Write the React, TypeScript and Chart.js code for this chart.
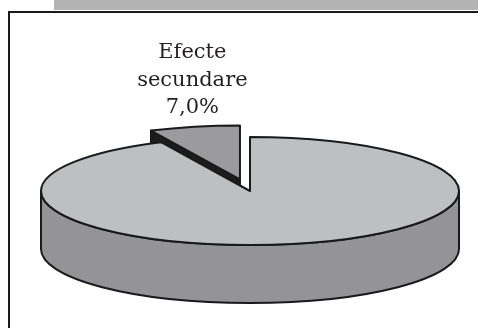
import React, { useEffect, useRef } from 'react';
import { Chart, registerables } from 'chart.js';

Chart.register(...registerables);

// ---- data ----
const categories: string[] = ['', 'Efecte secundare'];
const values: number[] = [93, 7];
const explode: number[] = [0, 46];

// ---- styles ----
const topColors = ['#bebfc1', '#9b9b9d'];
const wallColors = ['#949497', '#1c1c1c'];
const EDGE = '#1a1a1a';
const TILT = 54 / 209;
const DEPTH = 58;
const LABEL_FONT = '21px "DejaVu Serif", serif';
const LINE_H = 27.5;

const pie3d = {
  id: 'pie3d',
  beforeDatasetsDraw(chart: any) {
    const ctx: CanvasRenderingContext2D = chart.ctx;
    const meta = chart.getDatasetMeta(0);
    const ds = chart.data.datasets[0];
    const data: number[] = ds.data as number[];
    const total = data.reduce((a, b) => a + b, 0);
    const items = meta.data.map((el: any, i: number) => {
      const p = el.getProps(['x', 'y', 'startAngle', 'endAngle', 'outerRadius'], true);
      const off = el.options.offset || 0;
      const mid = (p.startAngle + p.endAngle) / 2;
      return {
        i,
        bx: p.x,
        by: p.y,
        cx: p.x + Math.cos(mid) * off,
        cy: p.y + Math.sin(mid) * off * TILT,
        r: p.outerRadius,
        s: p.startAngle,
        e: p.endAngle,
        mid,
        off,
      };
    });
    const order = [...items].sort((a, b) => a.cy - b.cy || Math.sin(a.mid) - Math.sin(b.mid));

    ctx.save();
    ctx.lineWidth = 2;
    ctx.strokeStyle = EDGE;
    ctx.lineJoin = 'round';
    for (const it of order) {
      const { cx, cy, r, s, e } = it;
      const rx = r;
      const ry = r * TILT;
      const wc = wallColors[it.i % wallColors.length];
      const tc = topColors[it.i % topColors.length];
      const wall = (a: number) => {
        const px = cx + rx * Math.cos(a);
        const py = cy + ry * Math.sin(a);
        ctx.beginPath();
        ctx.moveTo(cx, cy);
        ctx.lineTo(px, py);
        ctx.lineTo(px, py + DEPTH);
        ctx.lineTo(cx, cy + DEPTH);
        ctx.closePath();
        ctx.fillStyle = wc;
        ctx.fill();
        ctx.stroke();
      };
      if (Math.cos(s) < -1e-6) wall(s);
      if (Math.cos(e) > 1e-6) wall(e);
      for (let k = -1; k <= 2; k++) {
        const a0 = Math.max(s, k * 2 * Math.PI);
        const a1 = Math.min(e, k * 2 * Math.PI + Math.PI);
        if (a1 > a0 + 1e-6) {
          ctx.beginPath();
          ctx.ellipse(cx, cy, rx, ry, 0, a0, a1, false);
          ctx.lineTo(cx + rx * Math.cos(a1), cy + ry * Math.sin(a1) + DEPTH);
          ctx.ellipse(cx, cy + DEPTH, rx, ry, 0, a1, a0, true);
          ctx.closePath();
          ctx.fillStyle = wc;
          ctx.fill();
          ctx.stroke();
        }
      }
      ctx.beginPath();
      ctx.moveTo(cx, cy);
      ctx.ellipse(cx, cy, rx, ry, 0, s, e, false);
      ctx.closePath();
      ctx.fillStyle = tc;
      ctx.fill();
      ctx.stroke();
    }

    // labels
    ctx.fillStyle = '#231f20';
    ctx.font = LABEL_FONT;
    ctx.textAlign = 'center';
    ctx.textBaseline = 'alphabetic';
    for (const it of items) {
      const name = categories[it.i];
      if (!name) continue;
      const pct = ((data[it.i] / total) * 100).toFixed(1).replace('.', ',') + '%';
      const lines = [...name.split(' '), pct];
      const R = it.r + it.off;
      const X = it.bx + Math.cos(it.mid) * R - 2;
      const Y = it.by + Math.sin(it.mid) * R * TILT;
      const last = Y - 13.5;
      lines.forEach((ln, j) => {
        ctx.fillText(ln, X, last - (lines.length - 1 - j) * LINE_H);
      });
    }
    ctx.restore();
    return false;
  },
};

export default function App() {
  const ref = useRef<HTMLCanvasElement>(null);
  useEffect(() => {
    const chart = new Chart(ref.current as HTMLCanvasElement, {
      type: 'pie',
      data: {
        labels: categories,
        datasets: [
          {
            data: values,
            offset: explode,
            backgroundColor: topColors,
            borderWidth: 0,
          } as any,
        ],
      },
      options: {
        responsive: false,
        animation: false,
        devicePixelRatio: 1,
        radius: 209,
        layout: { padding: { left: 22, top: 54, right: 0, bottom: 0 } },
        events: [],
        plugins: { legend: { display: false }, tooltip: { enabled: false } },
      } as any,
      plugins: [pie3d as any],
    });
    return () => chart.destroy();
  }, []);
  return (
    <div
      style={{
        position: 'fixed',
        left: 0,
        top: 0,
        width: 478,
        height: 328,
        background: '#fff',
        overflow: 'hidden',
      }}
    >
      <div style={{ position: 'absolute', left: 54, top: 0, right: 0, height: 10, background: '#b3b3b3' }} />
      <div
        style={{
          position: 'absolute',
          left: 8,
          top: 11,
          width: 520,
          height: 400,
          borderLeft: '2px solid #1a1a1a',
          borderTop: '2px solid #1a1a1a',
        }}
      />
      <canvas ref={ref} width={478} height={328} style={{ position: 'absolute', left: 0, top: 0 }} />
    </div>
  );
}
